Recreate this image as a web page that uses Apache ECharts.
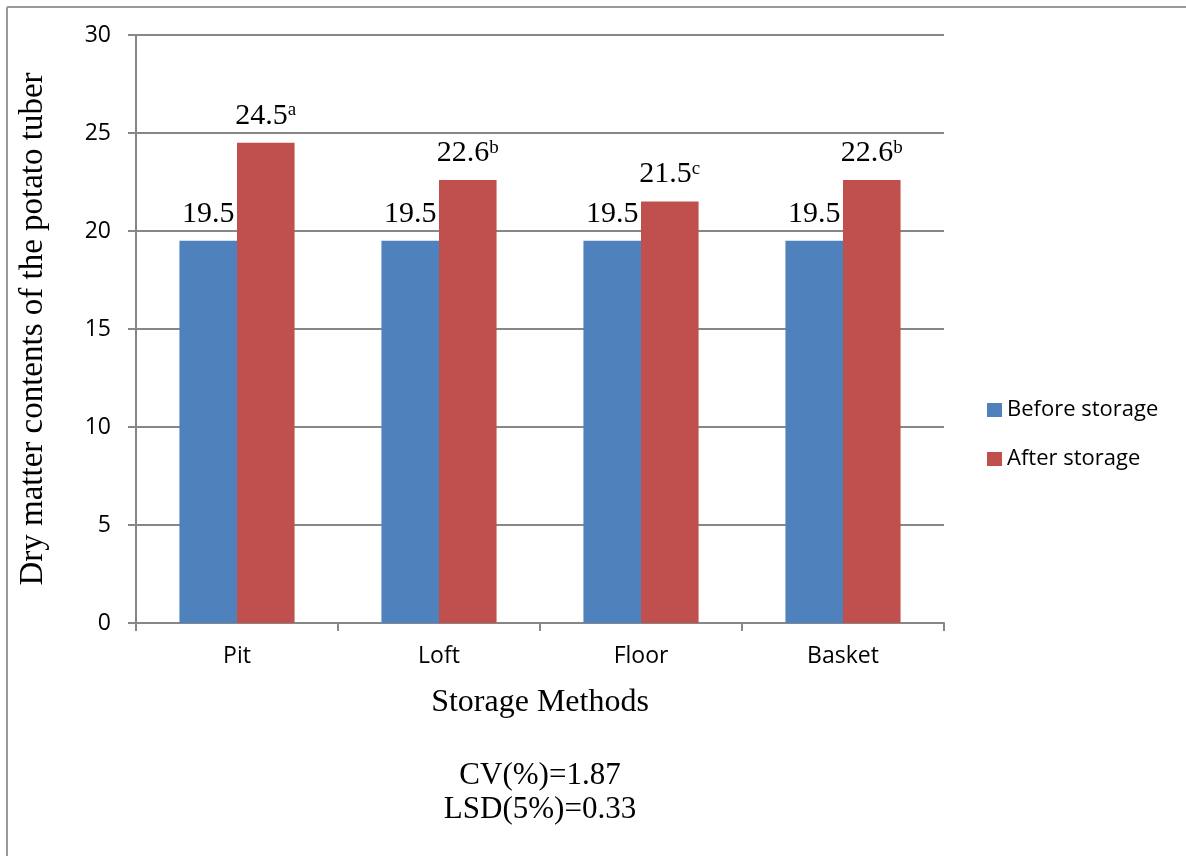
<!DOCTYPE html>
<html>
<head>
<meta charset="utf-8">
<style>
  html, body { margin: 0; padding: 0; background: #fff; }
  #chart { width: 1186px; height: 856px; }
</style>
<script src="https://cdn.jsdelivr.net/npm/echarts@6/dist/echarts.min.js"></script>
</head>
<body>
<div id="chart"></div>
<script>
// Storage methods and dry matter contents (%) of potato tubers
const categories = ['Pit', 'Loft', 'Floor', 'Basket'];
const beforeStorage = [19.5, 19.5, 19.5, 19.5];
const afterStorage = [24.5, 22.6, 21.5, 22.6];
const afterLetters = ['a', 'b', 'c', 'b'];
const yTicks = { min: 0, max: 30, interval: 5 };
const statLines = ['CV(%)=1.87', 'LSD(5%)=0.33'];

const serif = '"Liberation Serif", "Times New Roman", serif';
const sans = '"Open Sans", "Liberation Sans", sans-serif';
const axisGray = '#878787';

const chart = echarts.init(document.getElementById('chart'), null, { renderer: 'canvas' });

chart.setOption({
  backgroundColor: '#ffffff',
  animation: false,
  grid: { left: 136, right: 242, top: 35, bottom: 233, containLabel: false },
  legend: {
    orient: 'vertical',
    left: 987,
    top: 399,
    padding: 0,
    itemWidth: 15,
    itemHeight: 14,
    itemGap: 27,
    itemTextGap: 7,
    icon: 'rect',
    textStyle: { fontFamily: sans, fontSize: 22, color: '#000' },
    data: ['Before storage', 'After storage']
  },
  xAxis: {
    type: 'category',
    data: categories,
    name: 'Storage Methods',
    nameLocation: 'middle',
    nameGap: 64,
    nameTextStyle: { fontFamily: serif, fontSize: 32, color: '#000' },
    axisLine: { lineStyle: { color: axisGray, width: 2 } },
    axisTick: { show: true, length: 8, lineStyle: { color: axisGray, width: 2 } },
    axisLabel: { fontFamily: sans, fontSize: 23, color: '#000', margin: 22 }
  },
  yAxis: {
    type: 'value',
    min: yTicks.min,
    max: yTicks.max,
    interval: yTicks.interval,
    name: 'Dry matter contents of the potato tuber',
    nameLocation: 'middle',
    nameGap: 86,
    nameTextStyle: { fontFamily: serif, fontSize: 33, color: '#000' },
    axisLine: { show: true, lineStyle: { color: axisGray, width: 2 } },
    axisTick: { show: true, length: 8, lineStyle: { color: axisGray, width: 2 } },
    axisLabel: { fontFamily: sans, fontSize: 23, color: '#000', margin: 25 },
    splitLine: { lineStyle: { color: axisGray, width: 2 } }
  },
  series: [
    {
      name: 'Before storage',
      type: 'bar',
      data: beforeStorage,
      barGap: '0%',
      barCategoryGap: '43%',
      itemStyle: { color: '#4F81BD' },
      label: {
        show: true,
        position: 'top',
        distance: 12,
        fontFamily: serif,
        fontSize: 30,
        color: '#000',
        formatter: p => p.value.toFixed(1)
      }
    },
    {
      name: 'After storage',
      type: 'bar',
      data: afterStorage,
      itemStyle: { color: '#C0504D' },
      label: {
        show: true,
        position: 'top',
        distance: 12,
        color: '#000',
        formatter: p => '{v|' + p.value.toFixed(1) + '}{s|' + afterLetters[p.dataIndex] + '}',
        rich: {
          v: { fontFamily: serif, fontSize: 30, color: '#000', lineHeight: 30 },
          s: { fontFamily: serif, fontSize: 19, color: '#000', lineHeight: 30, verticalAlign: 'top' }
        }
      }
    }
  ],
  graphic: [
    {
      type: 'line',
      shape: { x1: 7, y1: 7, x2: 1186, y2: 7 },
      style: { stroke: '#999999', lineWidth: 2 }
    },
    {
      type: 'line',
      shape: { x1: 7, y1: 7, x2: 7, y2: 856 },
      style: { stroke: '#999999', lineWidth: 2 }
    },
    {
      type: 'text',
      x: 540,
      y: 759,
      style: {
        text: statLines.join('\n'),
        x: 0,
        y: 0,
        align: 'center',
        fontFamily: serif,
        fontSize: 31,
        lineHeight: 34,
        fill: '#000'
      }
    }
  ]
});
</script>
</body>
</html>
